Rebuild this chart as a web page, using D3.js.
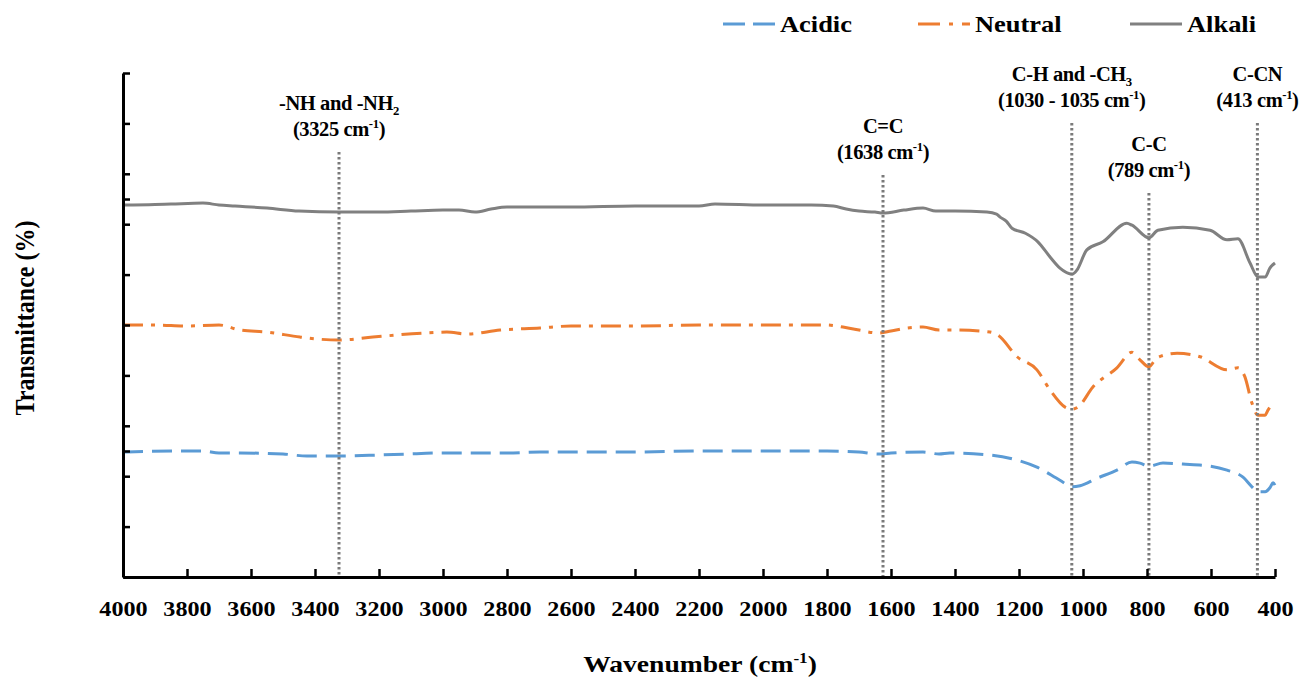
<!DOCTYPE html>
<html>
<head>
<meta charset="utf-8">
<script src="https://cdn.jsdelivr.net/npm/d3@7/dist/d3.min.js"></script>
<style>
  body { margin: 0; background: #fff; }
</style>
</head>
<body>
<svg id="chart" width="1303" height="680"></svg>
<script>
// Espectros FTIR: [número de onda (cm-1), transmitancia (u.a.)]
const acidic = [
  [4000, 24.8], [3800, 25.0], [3750, 25.0], [3700, 24.6], [3634, 24.6], [3500, 24.4], [3425, 24.0],
  [3322, 24.0], [3200, 24.2], [3113, 24.4], [3009, 24.6], [2800, 24.6], [2697, 24.8], [2400, 24.8],
  [2200, 25.0], [2000, 25.0], [1800, 25.0], [1700, 24.8], [1640, 24.4], [1600, 24.6], [1500, 24.8],
  [1450, 24.4], [1416, 24.6], [1291, 24.2], [1206, 23.2], [1144, 21.8], [1072, 19.2], [1034, 17.9],
  [1009, 18.1], [956, 19.6], [894, 21.2], [847, 22.8], [822, 22.6], [794, 22.0], [750, 22.6],
  [688, 22.4], [603, 22.0], [550, 21.2], [500, 19.8], [472, 17.9], [453, 16.9], [431, 16.9],
  [416, 17.7], [406, 18.7], [400, 18.2]
];
const neutral = [
  [4000, 50.0], [3900, 50.0], [3800, 49.8], [3700, 50.0], [3634, 49.0], [3550, 48.6], [3447, 47.6],
  [3325, 47.0], [3219, 47.6], [3063, 48.4], [2988, 48.6], [2925, 48.2], [2822, 49.0], [2697, 49.4],
  [2600, 49.8], [2400, 49.8], [2200, 50.0], [2000, 50.0], [1800, 50.0], [1750, 49.6], [1700, 49.0],
  [1640, 48.4], [1600, 48.8], [1550, 49.4], [1500, 49.6], [1450, 49.0], [1400, 49.0], [1291, 48.6],
  [1266, 48.0], [1206, 43.7], [1144, 41.1], [1103, 37.1], [1056, 33.7], [1034, 33.3], [1016, 33.7],
  [969, 37.7], [894, 41.5], [847, 44.6], [822, 43.1], [794, 41.7], [769, 43.5], [706, 44.4],
  [634, 43.7], [550, 41.1], [516, 41.5], [494, 39.7], [472, 34.5], [453, 32.1], [431, 32.1],
  [422, 33.1], [409, 34.1], [400, 33.5]
];
const alkali = [
  [4000, 73.8], [3900, 73.9], [3850, 74.0], [3750, 74.2], [3700, 73.8], [3650, 73.6], [3550, 73.2],
  [3450, 72.6], [3325, 72.4], [3200, 72.4], [3100, 72.6], [3000, 72.8], [2950, 72.8], [2900, 72.4],
  [2850, 73.0], [2800, 73.4], [2600, 73.4], [2400, 73.6], [2200, 73.6], [2150, 74.0], [2000, 73.8],
  [1850, 73.8], [1780, 73.6], [1740, 73.0], [1700, 72.6], [1650, 72.4], [1625, 72.2], [1560, 72.8],
  [1500, 73.2], [1460, 72.6], [1400, 72.6], [1300, 72.4], [1270, 72.0], [1259, 71.4], [1240, 70.6],
  [1222, 69.2], [1180, 68.2], [1141, 66.5], [1103, 63.5], [1072, 61.3], [1034, 60.1], [1019, 60.9],
  [988, 64.9], [938, 66.5], [863, 70.2], [847, 69.8], [794, 67.3], [766, 68.8], [688, 69.4],
  [603, 68.8], [550, 66.9], [516, 67.1], [478, 62.3], [453, 59.5], [431, 59.5], [416, 61.3], [400, 62.3]
];

const seriesNames = ["Acidic", "Neutral", "Alkali"];
const xTicks = d3.range(4000, 399, -200);
const yTicks = [0, 10, 20, 25, 30, 40, 50, 60, 70, 75, 80, 90, 100];

// Bandas marcadas (posición de la línea punteada tal como aparece en la figura)
const peakWn = [3325, 1625, 1035, 794, 455];
const peakTitle = [
  [{ t: "-NH and -NH" }, { t: "2", sub: true }],
  [{ t: "C=C" }],
  [{ t: "C-H and -CH" }, { t: "3", sub: true }],
  [{ t: "C-C" }],
  [{ t: "C-CN" }]
];
const peakValue = ["3325", "1638", "1030 - 1035", "789", "413"];

// estilos
const FontFamily = '"Liberation Serif", "Times New Roman", serif';
const SeriesColor = ["#5b9bd5", "#ed7d31", "#808080"];
const SeriesDash = ["20,9", "20,8,4,8", null];
const PeakTopY = [152, 175, 123, 193, 123];   // inicio de cada línea punteada
const TextStretch = 1.15;
const PeakFont = 20.5;

const svg = d3.select("#chart");

const x = d3.scaleLinear().domain([4000, 400]).range([123, 1275]);
const y = d3.scaleLinear().domain([0, 100]).range([577, 73]);

// texto con sub/superíndices
function richText(sel, parts, size) {
  let shift = 0;
  parts.forEach(p => {
    const ts = sel.append("tspan").text(p.t);
    let target = p.sup ? -size * 0.38 : p.sub ? size * 0.22 : 0;
    if (target !== shift) ts.attr("dy", target - shift);
    if (p.sup || p.sub) ts.attr("font-size", size * 0.62);
    shift = target;
  });
}

// curvas
const line = d3.line()
  .x(d => x(d[0]))
  .y(d => y(d[1]))
  .curve(d3.curveMonotoneX);

[acidic, neutral, alkali].forEach((data, i) => {
  svg.append("path")
    .datum(data)
    .attr("fill", "none")
    .attr("stroke", SeriesColor[i])
    .attr("stroke-width", 3)
    .attr("stroke-dasharray", SeriesDash[i])
    .attr("stroke-linejoin", "round")
    .attr("d", line);
});

// líneas punteadas de las bandas
svg.append("g").selectAll("line")
  .data(peakWn)
  .join("line")
  .attr("x1", d => x(d)).attr("x2", d => x(d))
  .attr("y1", (d, i) => PeakTopY[i]).attr("y2", y(0))
  .attr("stroke", "#7a7a7a")
  .attr("stroke-width", 3)
  .attr("stroke-dasharray", "2.5,2.5");

// etiquetas de las bandas
const peakG = svg.append("g").selectAll("g")
  .data(peakWn)
  .join("g")
  .attr("transform", (d, i) => `translate(${x(d)},${PeakTopY[i] - 42})`);

peakG.append("text")
  .attr("text-anchor", "middle")
  .attr("font-size", PeakFont)
  .attr("letter-spacing", -0.4)
  .each(function (d, i) { richText(d3.select(this), peakTitle[i], PeakFont); });

peakG.append("text")
  .attr("text-anchor", "middle")
  .attr("font-size", PeakFont)
  .attr("letter-spacing", -0.4)
  .attr("y", 26)
  .each(function (d, i) {
    richText(d3.select(this), [{ t: "(" + peakValue[i] + " cm" }, { t: "-1", sup: true }, { t: ")" }], PeakFont);
  });

// ejes
const xAxis = svg.append("g")
  .attr("transform", `translate(0,${y(0)})`)
  .call(d3.axisBottom(x).tickValues(xTicks).tickSize(-8).tickSizeOuter(0).tickPadding(24).tickFormat(d3.format("d")));

const yAxis = svg.append("g")
  .attr("transform", `translate(${x(4000)},0)`)
  .call(d3.axisLeft(y).tickValues(yTicks).tickSize(-7).tickSizeOuter(0).tickFormat(""));

[xAxis, yAxis].forEach(g => {
  g.attr("font-family", null).attr("font-size", null);
  g.select(".domain").attr("stroke", "#000").attr("stroke-width", 3);
  g.selectAll(".tick line").attr("stroke", "#000").attr("stroke-width", 2.5);
});
xAxis.selectAll(".tick text")
  .attr("font-size", 21)
  .attr("fill", "#000")
  .attr("transform", `scale(${TextStretch},1)`);

// títulos de ejes
svg.append("text")
  .attr("transform", `translate(700,672) scale(${TextStretch},1)`)
  .attr("text-anchor", "middle")
  .attr("font-size", 24)
  .call(t => richText(t, [{ t: "Wavenumber (cm" }, { t: "-1", sup: true }, { t: ")" }], 24));

svg.append("text")
  .attr("transform", `translate(34,318) rotate(-90) scale(1,${TextStretch})`)
  .attr("text-anchor", "middle")
  .attr("font-size", 24)
  .text("Transmittance  (%)");

// leyenda
const LegendX = [723, 918, 1130];
const legend = svg.append("g").selectAll("g")
  .data(seriesNames)
  .join("g")
  .attr("transform", (d, i) => `translate(${LegendX[i]},24)`);

legend.append("line")
  .attr("x1", 0).attr("x2", 52)
  .attr("stroke", (d, i) => SeriesColor[i])
  .attr("stroke-width", 3)
  .attr("stroke-dasharray", (d, i) => i === 0 ? "22,8" : i === 1 ? "22,9,4,9" : null);

legend.append("text")
  .attr("transform", `translate(57,8) scale(${TextStretch},1)`)
  .attr("font-size", 23)
  .text(d => d);

// todos los textos en serif negrita
svg.selectAll("text")
  .style("font-family", FontFamily)
  .style("font-weight", "bold")
  .style("fill", "#000");
</script>
</body>
</html>
